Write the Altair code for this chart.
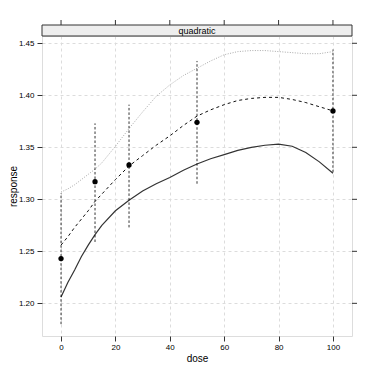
import altair as alt
import pandas as pd

# ---- data ----
curve_dose = [0, 2.5, 5, 7.5, 10, 12.5, 15, 20, 25, 30, 35, 40, 45, 50,
              55, 60, 65, 70, 75, 80, 85, 90, 95, 100]
lower = [1.206, 1.220, 1.232, 1.245, 1.256, 1.266, 1.275, 1.289, 1.299, 1.308,
         1.315, 1.321, 1.328, 1.334, 1.339, 1.343, 1.347, 1.350, 1.352, 1.353,
         1.351, 1.345, 1.336, 1.325]
middle = [1.256, 1.264, 1.273, 1.281, 1.289, 1.298, 1.305, 1.319, 1.332, 1.342,
          1.352, 1.361, 1.371, 1.380, 1.386, 1.391, 1.395, 1.397, 1.398, 1.398,
          1.396, 1.393, 1.389, 1.385]
upper = [1.307, 1.310, 1.314, 1.319, 1.324, 1.329, 1.335, 1.351, 1.368, 1.384,
         1.399, 1.410, 1.419, 1.426, 1.433, 1.439, 1.442, 1.443, 1.443, 1.442,
         1.441, 1.440, 1.440, 1.442]

point_dose = [0, 12.5, 25, 50, 100]
point_resp = [1.243, 1.317, 1.333, 1.374, 1.385]
point_lo = [1.180, 1.259, 1.273, 1.315, 1.326]
point_hi = [1.306, 1.373, 1.391, 1.433, 1.444]

x_ticks = [0, 20, 40, 60, 80, 100]
y_ticks = [1.20, 1.25, 1.30, 1.35, 1.40, 1.45]
strip_label = ["quadratic"]

# ---- tables ----
curves = pd.DataFrame({"dose": curve_dose, "lower": lower, "middle": middle, "upper": upper})
points = pd.DataFrame({"dose": point_dose, "response": point_resp, "lo": point_lo, "hi": point_hi})
xt = pd.DataFrame({"dose": x_ticks})
yt = pd.DataFrame({"response": y_ticks})
strip = pd.DataFrame({"label": strip_label})

W, H = 310, 300
FONT = "Liberation Sans"
xs = alt.Scale(domain=[-7, 107], nice=False, zero=False)
ys = alt.Scale(domain=[1.1686, 1.457], nice=False, zero=False)

xaxis = alt.Axis(values=x_ticks, title="dose", grid=True, gridColor="#dcdcdc",
                 gridDash=[3, 3], tickColor="#333", tickSize=5, domain=False,
                 labelFontSize=8, labelFont=FONT, titleFont=FONT, titleFontSize=10,
                 titleFontWeight="normal", labelColor="#000", titleColor="#000",
                 labelPadding=2, titlePadding=2)
yaxis = alt.Axis(values=y_ticks, title="response", format=".2f", grid=True,
                 gridColor="#dcdcdc", gridDash=[3, 3], tickColor="#333", tickSize=5,
                 domain=False, labelFontSize=8, labelFont=FONT, titleFont=FONT,
                 titleFontSize=10, titleFontWeight="normal", labelColor="#000",
                 titleColor="#000", labelPadding=3,
                 titleX=-29, titleY=H / 2, titleAngle=-90, titleAlign="center",
                 titleBaseline="middle")

base = alt.Chart(curves)

line_lower = base.mark_line(color="#333333", strokeWidth=1.2).encode(
    x=alt.X("dose:Q", scale=xs, axis=xaxis),
    y=alt.Y("lower:Q", scale=ys, axis=yaxis))
line_middle = base.mark_line(color="#111111", strokeWidth=1, strokeDash=[3, 3]).encode(
    x=alt.X("dose:Q", scale=xs), y=alt.Y("middle:Q", scale=ys))
line_upper = base.mark_line(color="#aaaaaa", strokeWidth=1, strokeDash=[1, 1.5]).encode(
    x=alt.X("dose:Q", scale=xs), y=alt.Y("upper:Q", scale=ys))

bars = alt.Chart(points).mark_rule(color="#000", strokeWidth=0.8, strokeDash=[2.5, 2]).encode(
    x=alt.X("dose:Q", scale=xs), y=alt.Y("lo:Q", scale=ys), y2="hi:Q")
dots = alt.Chart(points).mark_circle(color="#000", opacity=1, size=28).encode(
    x=alt.X("dose:Q", scale=xs), y=alt.Y("response:Q", scale=ys))

strip_rect = alt.Chart(strip).mark_rect(fill="#eeeeee", stroke="#333", strokeWidth=1).encode(
    x=alt.value(0), x2=alt.value(W), y=alt.value(-11), y2=alt.value(0))
strip_text = alt.Chart(strip).mark_text(font=FONT, fontSize=9, color="#000",
                                        baseline="middle").encode(
    x=alt.value(W / 2), y=alt.value(-5.5), text="label:N")

top_ticks = alt.Chart(xt).mark_rule(color="#333").encode(
    x=alt.X("dose:Q", scale=xs), y=alt.value(-11), y2=alt.value(-16))
right_ticks = alt.Chart(yt).mark_rule(color="#333").encode(
    y=alt.Y("response:Q", scale=ys), x=alt.value(W), x2=alt.value(W + 5))

chart = alt.layer(
    line_lower, line_middle, line_upper, bars, dots,
    strip_rect, strip_text, top_ticks, right_ticks
).properties(
    width=W, height=H,
    autosize=alt.AutoSizeParams(type="none"),
    padding={"left": 34, "top": 28, "right": 14, "bottom": 30},
).configure_view(stroke="#333", strokeWidth=1).configure(background="white")

chart.save("out.html", embed_options={"renderer": "svg", "actions": False})
